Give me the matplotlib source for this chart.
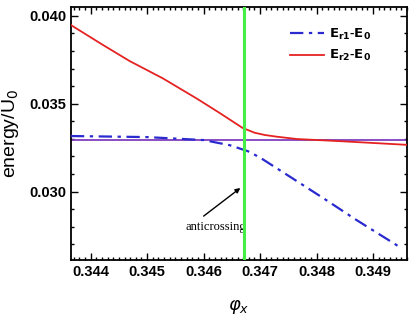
import matplotlib
matplotlib.use("Agg")
import matplotlib.pyplot as plt
from matplotlib.ticker import MultipleLocator

# ── data ───────────────────────────────────────────────────────
phi_r1 = [0.34365, 0.34499, 0.34600, 0.34646, 0.34678, 0.34699,
          0.34752, 0.34810, 0.34870, 0.34950]
e_r1 = [0.03316, 0.03310, 0.03293, 0.03264, 0.03230, 0.03195,
        0.03086, 0.02966, 0.02839, 0.02678]

phi_r2 = [0.34365, 0.34420, 0.34469, 0.34528, 0.34588, 0.34628, 0.34669,
          0.34690, 0.34708, 0.34730, 0.34765, 0.34840, 0.34959]
e_r2 = [0.03948, 0.03838, 0.03743, 0.03644, 0.03529, 0.03448, 0.03362,
        0.03335, 0.03322, 0.03312, 0.03299, 0.03287, 0.03266]

e_flat = 0.03296          # horizontal reference level
phi_cross = 0.34671       # anticrossing position

labels = [r"$\mathbf{E_{r1}}$-$\mathbf{E_0}$", r"$\mathbf{E_{r2}}$-$\mathbf{E_0}$"]

fig = plt.figure(figsize=(4.17, 3.24), dpi=100, facecolor="white")
ax = fig.add_axes([0.170, 0.1975, 0.806, 0.7805])

ax.axhline(e_flat, color="#7f3fbf", lw=1.3, zorder=2)
ax.plot(phi_r1, e_r1, color="#2a2ad0", lw=1.6, ls=(0, (6, 2.5, 1.5, 2.5)),
        label=labels[0], zorder=3)
ax.plot(phi_r2, e_r2, color="#e52222", lw=1.3, label=labels[1], zorder=3)
ax.axvline(phi_cross, color="#44ee44", lw=2.2, zorder=4)

ax.text(0.34622, 0.02799, "anticrossing", ha="center", va="center",
        fontsize=9, family="Liberation Serif")
ax.annotate("", xy=(0.34665, 0.03020), xytext=(0.34600, 0.02860),
            arrowprops=dict(arrowstyle="-|>", color="black", lw=1.0,
                            mutation_scale=7, shrinkA=0, shrinkB=0))

ax.set_xlim(0.34365, 0.3496)
ax.set_ylim(0.0261, 0.0405)

ax.xaxis.set_major_locator(MultipleLocator(0.001))
ax.xaxis.set_minor_locator(MultipleLocator(0.0001))
ax.yaxis.set_major_locator(MultipleLocator(0.005))
ax.yaxis.set_minor_locator(MultipleLocator(0.001))
ax.xaxis.set_major_formatter(plt.FormatStrFormatter("%.3f"))
ax.yaxis.set_major_formatter(plt.FormatStrFormatter("%.3f"))

ax.tick_params(which="both", direction="in", top=True, right=True, width=1.0)
ax.tick_params(which="major", length=5)
ax.tick_params(which="minor", length=2.5)
for lab in ax.get_xticklabels() + ax.get_yticklabels():
    lab.set_fontweight("bold")
    lab.set_fontsize(10.5)
    lab.set_family("Liberation Sans")
for sp in ax.spines.values():
    sp.set_linewidth(1.3)

ax.set_ylabel(r"energy/U$_0$", fontsize=14, family="Liberation Sans", labelpad=6)
ax.set_xlabel(r"$\varphi_x$", fontsize=13, labelpad=14)

ax.legend(loc="upper right", bbox_to_anchor=(0.93, 0.97), frameon=False,
          handlelength=2.6, handletextpad=0.4, labelspacing=0.5,
          prop=dict(family="Liberation Sans", weight="bold", size=9.5))

fig.savefig("out.png", dpi=100, facecolor="white")
